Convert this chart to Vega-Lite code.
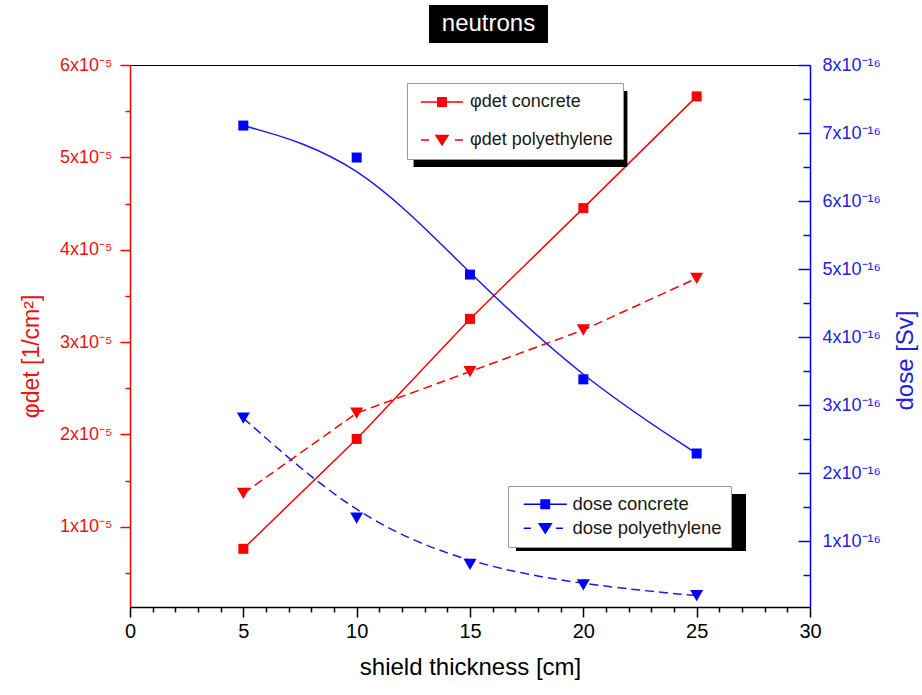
{
  "$schema": "https://vega.github.io/schema/vega-lite/v6.json",
  "width": 680,
  "height": 542,
  "autosize": {"type": "none"},
  "padding": {"left": 130, "top": 65, "right": 112, "bottom": 88},
  "background": "#ffffff",
  "config": {
    "font": "Liberation Sans",
    "view": {"stroke": "#000000", "strokeWidth": 1},
    "axis": {"grid": false, "labelFont": "Liberation Sans", "titleFont": "Liberation Sans", "titleFontWeight": "normal"},
    "legend": {"labelFont": "Liberation Sans", "titleFont": "Liberation Sans"}
  },
  "data": {
    "values": [
      {"thickness": 5, "material": "concrete", "phi": 7.6e-6, "dose": 7.11e-16},
      {"thickness": 10, "material": "concrete", "phi": 1.95e-5, "dose": 6.64e-16},
      {"thickness": 15, "material": "concrete", "phi": 3.25e-5, "dose": 4.92e-16},
      {"thickness": 20, "material": "concrete", "phi": 4.45e-5, "dose": 3.38e-16},
      {"thickness": 25, "material": "concrete", "phi": 5.66e-5, "dose": 2.29e-16},
      {"thickness": 5, "material": "polyethylene", "phi": 1.36e-5, "dose": 2.81e-16},
      {"thickness": 10, "material": "polyethylene", "phi": 2.23e-5, "dose": 1.34e-16},
      {"thickness": 15, "material": "polyethylene", "phi": 2.68e-5, "dose": 0.66e-16},
      {"thickness": 20, "material": "polyethylene", "phi": 3.13e-5, "dose": 0.36e-16},
      {"thickness": 25, "material": "polyethylene", "phi": 3.69e-5, "dose": 0.20e-16}
    ]
  },
  "encoding": {
    "x": {
      "field": "thickness",
      "type": "quantitative",
      "scale": {"domain": [0, 30], "nice": false, "zero": false},
      "axis": {
        "title": "shield thickness [cm]",
        "values": [0,1,2,3,4,5,6,7,8,9,10,11,12,13,14,15,16,17,18,19,20,21,22,23,24,25,26,27,28,29,30],
        "labelExpr": "datum.value % 5 === 0 ? datum.label : ''",
        "tickSize": {"condition": {"test": "datum.value % 5 === 0", "value": 10}, "value": 5},
        "labelFontSize": 20,
        "labelColor": "#000000",
        "labelPadding": 4,
        "labelFlush": false,
        "labelOverlap": false,
        "titleFontSize": 24,
        "titleColor": "#000000",
        "titleY": 60,
        "titleBaseline": "middle",
        "domainColor": "#000000",
        "domainWidth": 1.5,
        "tickColor": "#000000",
        "tickWidth": 1.5
      }
    }
  },
  "layer": [
    {
      "encoding": {
        "y": {
          "field": "phi",
          "type": "quantitative",
          "scale": {"domain": [1.3e-6, 6e-5], "nice": false, "zero": false},
          "axis": {
            "orient": "left",
            "title": "φdet [1/cm²]",
            "values": [5e-6, 1e-5, 1.5e-5, 2e-5, 2.5e-5, 3e-5, 3.5e-5, 4e-5, 4.5e-5, 5e-5, 5.5e-5, 6e-5],
            "labelExpr": "abs(datum.value*1e5 - round(datum.value*1e5)) < 0.01 ? round(datum.value*1e5) + 'x10⁻⁵' : ''",
            "tickSize": {"condition": {"test": "abs(datum.value*1e5 - round(datum.value*1e5)) < 0.01", "value": 10}, "value": 5},
            "labelFontSize": 18,
            "labelColor": "#ee1111",
            "labelPadding": 8,
            "labelOverlap": false,
            "labelFlush": false,
            "titleFontSize": 23,
            "titleColor": "#ee1111",
            "titleAngle": 270,
            "titleX": -99,
            "titleY": 291,
            "titleBaseline": "middle",
            "titleAlign": "center",
            "domainColor": "#ff0000",
            "domainWidth": 1.5,
            "tickColor": "#ff0000",
            "tickWidth": 1.5
          }
        }
      },
      "layer": [
        {
          "transform": [{"filter": "datum.material === 'concrete'"}],
          "mark": {"type": "line", "color": "#ff0000", "strokeWidth": 1.5}
        },
        {
          "transform": [{"filter": "datum.material === 'polyethylene'"}],
          "mark": {"type": "line", "color": "#ff0000", "strokeWidth": 1.5, "strokeDash": [9, 5]}
        },
        {
          "transform": [{"filter": "datum.material === 'concrete'"}],
          "mark": {"type": "point", "shape": "square", "filled": true, "size": 100, "color": "#ff0000", "opacity": 1}
        },
        {
          "transform": [{"filter": "datum.material === 'polyethylene'"}],
          "mark": {"type": "point", "shape": "triangle-down", "filled": true, "size": 170, "color": "#ff0000", "opacity": 1}
        },
        {
          "mark": {"type": "point", "filled": true, "color": "#ff0000", "opacity": 0},
          "encoding": {
            "shape": {
              "field": "material",
              "type": "nominal",
              "scale": {
                "domain": ["concrete", "polyethylene"],
                "range": [
                  "M-2.625,-0.09H-0.6V0.09H-2.625ZM0.6,-0.09H2.625V0.09H0.6ZM-0.62,-0.62H0.62V0.62H-0.62Z",
                  "M-2.625,-0.09H-1.625V0.09H-2.625ZM1.625,-0.09H2.625V0.09H1.625ZM-0.92,-0.66H0.92L0,0.78Z"
                ]
              },
              "legend": {
                "title": null,
                "orient": "none",
                "legendX": 277,
                "legendY": 18,
                "direction": "vertical",
                "fillColor": "#ffffff",
                "strokeColor": "#9a9a9a",
                "padding": 10,
                "rowPadding": 20,
                "symbolSize": 256,
                "symbolStrokeWidth": 0,
                "symbolFillColor": "#ff0000",
                "symbolOpacity": 1,
                "symbolOffset": 16,
                "labelOffset": 19,
                "labelFontSize": 18,
                "labelColor": "#1a1a1a",
                "labelLimit": 400,
                "labelExpr": "'φdet ' + datum.label",
                "zindex": 2
              }
            }
          }
        }
      ]
    },
    {
      "encoding": {
        "y": {
          "field": "dose",
          "type": "quantitative",
          "scale": {"domain": [3.4e-18, 8e-16], "nice": false, "zero": false},
          "axis": {
            "orient": "right",
            "title": "dose [Sv]",
            "values": [5e-17, 1e-16, 1.5e-16, 2e-16, 2.5e-16, 3e-16, 3.5e-16, 4e-16, 4.5e-16, 5e-16, 5.5e-16, 6e-16, 6.5e-16, 7e-16, 7.5e-16, 8e-16],
            "labelExpr": "abs(datum.value*1e16 - round(datum.value*1e16)) < 0.01 ? round(datum.value*1e16) + 'x10⁻¹⁶' : ''",
            "tickSize": {"condition": {"test": "abs(datum.value*1e16 - round(datum.value*1e16)) < 0.01", "value": -12}, "value": -7},
            "labelFontSize": 18,
            "labelColor": "#2222dd",
            "labelPadding": 24,
            "labelOverlap": false,
            "labelFlush": false,
            "titleFontSize": 24,
            "titleColor": "#2222dd",
            "titleAngle": 270,
            "titleX": 95,
            "titleY": 295,
            "titleBaseline": "middle",
            "titleAlign": "center",
            "domainColor": "#0000ff",
            "domainWidth": 1.5,
            "tickColor": "#0000ff",
            "tickWidth": 1.5
          }
        }
      },
      "layer": [
        {
          "transform": [{"filter": "datum.material === 'concrete'"}],
          "mark": {"type": "line", "color": "#1a1ae6", "strokeWidth": 1.5, "interpolate": "basis"}
        },
        {
          "transform": [{"filter": "datum.material === 'polyethylene'"}],
          "mark": {"type": "line", "color": "#1a1ae6", "strokeWidth": 1.5, "interpolate": "basis", "strokeDash": [9, 5]}
        },
        {
          "transform": [{"filter": "datum.material === 'concrete'"}],
          "mark": {"type": "point", "shape": "square", "filled": true, "size": 100, "color": "#0000ff", "opacity": 1}
        },
        {
          "transform": [{"filter": "datum.material === 'polyethylene'"}],
          "mark": {"type": "point", "shape": "triangle-down", "filled": true, "size": 170, "color": "#0000ff", "opacity": 1}
        },
        {
          "mark": {"type": "point", "filled": true, "color": "#0000ff", "opacity": 0},
          "encoding": {
            "shape": {
              "field": "material",
              "type": "nominal",
              "scale": {
                "domain": ["concrete", "polyethylene"],
                "range": [
                  "M-2.7,-0.09H-0.6V0.09H-2.7ZM0.6,-0.09H2.7V0.09H0.6ZM-0.62,-0.62H0.62V0.62H-0.62Z",
                  "M-2.7,-0.09H-1.8V0.09H-2.7ZM1.35,-0.09H2.2V0.09H1.35ZM-0.92,-0.66H0.92L0,0.78Z"
                ]
              },
              "legend": {
                "title": null,
                "orient": "none",
                "legendX": 378,
                "legendY": 421,
                "direction": "vertical",
                "fillColor": "#ffffff",
                "strokeColor": "#9a9a9a",
                "padding": 9,
                "rowPadding": 5,
                "symbolSize": 256,
                "symbolStrokeWidth": 0,
                "symbolFillColor": "#0000ff",
                "symbolOpacity": 1,
                "symbolOffset": 19,
                "labelOffset": 18,
                "labelFontSize": 18.5,
                "labelColor": "#1a1a1a",
                "labelLimit": 400,
                "labelExpr": "'dose ' + datum.label + '\u00a0\u00a0'",
                "zindex": 2
              }
            }
          }
        }
      ]
    },
    {
      "mark": {"type": "point", "filled": true, "opacity": 0},
      "encoding": {
        "fill": {
          "datum": "neutrons",
          "type": "nominal",
          "scale": {"range": ["#000000"]},
          "legend": {
            "title": null,
            "orient": "none",
            "legendX": 299,
            "legendY": -60,
            "padding": 0,
            "symbolType": "M-3.1316,-1H3.1316V1H-3.1316Z",
            "symbolSize": 1444,
            "symbolStrokeWidth": 0,
            "symbolOpacity": 1,
            "symbolOffset": 40.5,
            "labelOffset": -19,
            "labelAlign": "center",
            "labelFontSize": 24,
            "labelColor": "#ffffff",
            "zindex": 1
          }
        }
      }
    },
    {
      "mark": {"type": "point", "filled": true, "opacity": 0},
      "encoding": {
        "fill": {
          "datum": "shadow",
          "type": "nominal",
          "scale": {"range": ["#000000"]},
          "legend": {
            "title": null,
            "orient": "none",
            "legendX": 285,
            "legendY": 26,
            "padding": 0,
            "symbolType": "M-2.8133,-1H2.8133V1H-2.8133Z",
            "symbolSize": 5776,
            "symbolStrokeWidth": 0,
            "symbolOpacity": 1,
            "symbolOffset": 67.5,
            "labelOffset": -120,
            "labelExpr": "''",
            "zindex": 1
          }
        }
      }
    },
    {
      "mark": {"type": "point", "filled": true, "opacity": 0},
      "encoding": {
        "fill": {
          "datum": "shadow ",
          "type": "nominal",
          "scale": {"range": ["#000000"]},
          "legend": {
            "title": null,
            "orient": "none",
            "legendX": 386,
            "legendY": 429,
            "padding": 0,
            "symbolType": "M-4.0351,-1H4.0351V1H-4.0351Z",
            "symbolSize": 3249,
            "symbolStrokeWidth": 0,
            "symbolOpacity": 1,
            "symbolOffset": 86.5,
            "labelOffset": -150,
            "labelExpr": "''",
            "zindex": 1
          }
        }
      }
    }
  ],
  "resolve": {
    "scale": {"y": "independent", "shape": "independent", "fill": "independent"},
    "legend": {"shape": "independent", "fill": "independent"}
  }
}
